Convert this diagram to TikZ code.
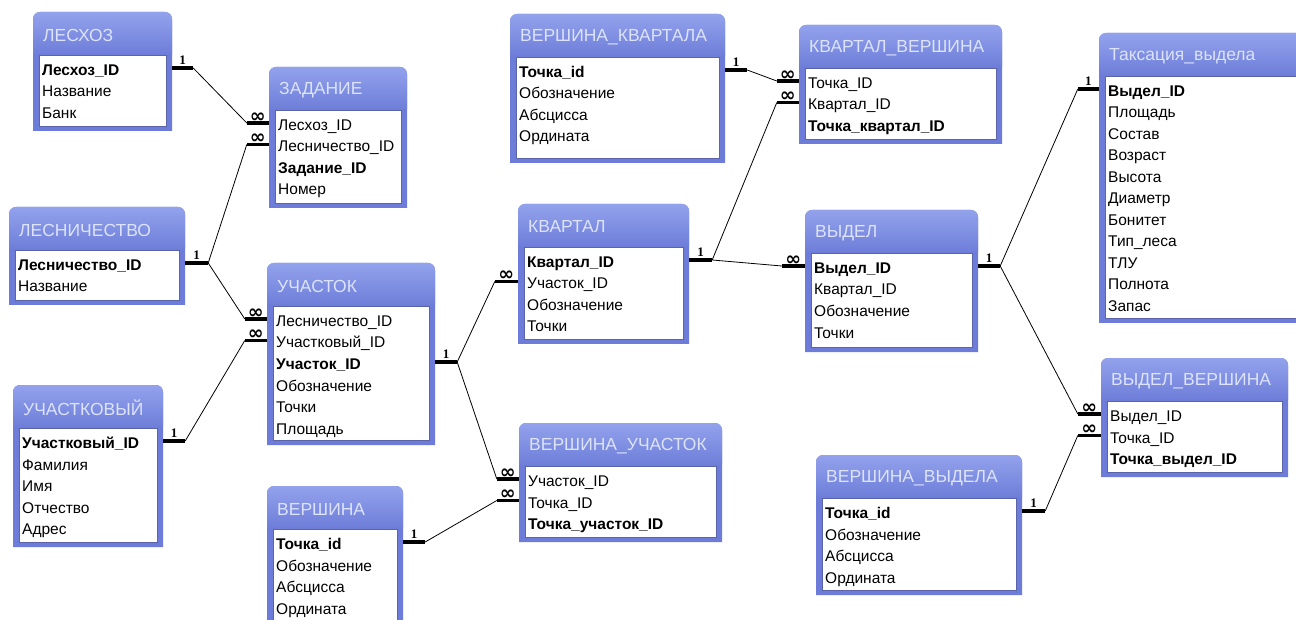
\documentclass[tikz,border=0pt]{standalone}
\usepackage{fontspec}
\setmainfont{Liberation Sans}
\newfontfamily\lblfont{Liberation Serif}
\newfontfamily\symfont{DejaVu Sans}
\usetikzlibrary{fit}
\definecolor{tblframe}{HTML}{6C7CD8}
\definecolor{hdtop}{HTML}{93A2EC}
\definecolor{hdbot}{HTML}{6E7ED9}
\definecolor{ttlcol}{HTML}{DCE3FA}
\definecolor{innerbd}{HTML}{5A64A8}
\tikzset{
  x=1pt,y=-1pt,
  rowtxt/.style={anchor=west, inner sep=0pt, text height=15pt, text depth=0pt,
                 font=\fontsize{15.5}{18}\selectfont, text=black},
  ttl/.style={anchor=west, inner sep=0pt, font=\fontsize{17.5}{20}\selectfont, text=ttlcol},
  stub/.style={line width=3.6pt},
  rel/.style={line width=0.8pt},
  one/.style={font=\lblfont\bfseries\fontsize{13}{13}\selectfont, inner sep=1pt, above=1pt},
  many/.style={font=\symfont\bfseries\fontsize{19}{19}\selectfont, inner sep=0pt, above=-1pt},
  tbl/.style={inner sep=0pt},
}
\newcommand\entity[7]{%
  \fill[tblframe] (#2,#5) [rounded corners=7pt] -- (#2,#3) -- (#4,#3) [sharp corners] -- (#4,#5) -- cycle;
  \shade[top color=hdtop, bottom color=hdbot] (#2,#3+42) [rounded corners=7pt] -- (#2,#3) -- (#4,#3) [sharp corners] -- (#4,#3+42) -- cycle;
  \fill[white, draw=innerbd, line width=0.8pt] (#2+6,#3+43) rectangle (#4-6,#5-5);
  \node[tbl, fit={(#2,#3) (#4,#5)}] (#1) {};
  \node[ttl] (#1-t) at (#2+10,#3+23) {#6};
  \foreach \r [count=\i from 0] in {#7}
    \node[rowtxt] (#1-\i) at (#2+9,#3+56+21.5*\i) {\r};
}
\begin{document}
\begin{tikzpicture}
\useasboundingbox (0,0) rectangle (1296,620);
\clip (0,0) rectangle (1296,620);
\fill[white] (0,0) rectangle (1296,620);

\entity{lesh}{33}{12}{172}{131}{ЛЕСХОЗ}{\textbf{Лесхоз\_ID},Название,Банк}
\entity{zad}{269}{67}{407}{208}{ЗАДАНИЕ}{Лесхоз\_ID,Лесничество\_ID,\textbf{Задание\_ID},Номер}
\entity{lesn}{9}{207}{185}{305}{ЛЕСНИЧЕСТВО}{\textbf{Лесничество\_ID},Название}
\entity{uch}{267}{263}{435}{445}{УЧАСТОК}{Лесничество\_ID,Участковый\_ID,\textbf{Участок\_ID},Обозначение,Точки,Площадь}
\entity{uchv}{13}{385}{163}{547}{УЧАСТКОВЫЙ}{\textbf{Участковый\_ID},Фамилия,Имя,Отчество,Адрес}
\entity{ver}{267}{486}{403}{650}{ВЕРШИНА}{\textbf{Точка\_id},Обозначение,Абсцисса,Ордината}
\entity{vk}{510}{14}{725}{163}{ВЕРШИНА\_КВАРТАЛА}{\textbf{Точка\_id},Обозначение,Абсцисса,Ордината}
\entity{kvv}{799}{25}{1002}{144}{КВАРТАЛ\_ВЕРШИНА}{Точка\_ID,Квартал\_ID,\textbf{Точка\_квартал\_ID}}
\entity{kv}{518}{204}{689}{344}{КВАРТАЛ}{\textbf{Квартал\_ID},Участок\_ID,Обозначение,Точки}
\entity{vyd}{805}{210}{978}{352}{ВЫДЕЛ}{\textbf{Выдел\_ID},Квартал\_ID,Обозначение,Точки}
\entity{vu}{519}{423}{722}{542}{ВЕРШИНА\_УЧАСТОК}{Участок\_ID,Точка\_ID,\textbf{Точка\_участок\_ID}}
\entity{tax}{1099}{33}{1312}{323}{Таксация\_выдела}{\textbf{Выдел\_ID},Площадь,Состав,Возраст,Высота,Диаметр,Бонитет,Тип\_леса,ТЛУ,Полнота,Запас}
\entity{vv}{1101}{358}{1288}{477}{ВЫДЕЛ\_ВЕРШИНА}{Выдел\_ID,Точка\_ID,\textbf{Точка\_выдел\_ID}}
\entity{vvd}{816}{455}{1022}{595}{ВЕРШИНА\_ВЫДЕЛА}{\textbf{Точка\_id},Обозначение,Абсцисса,Ордината}

% ЛЕСХОЗ -> ЗАДАНИЕ
\draw[stub] (lesh.east |- lesh-0) -- ++(21,0) node[midway,one]{1} coordinate (a1);
\draw[stub] (zad.west |- zad-0) -- ++(-22,0) node[midway,many]{∞} coordinate (b1);
\draw[rel] (a1) -- (b1);
% ЛЕСНИЧЕСТВО -> ЗАДАНИЕ, УЧАСТОК
\draw[stub] (lesn.east |- lesn-0) -- ++(23,0) node[midway,one]{1} coordinate (a2);
\draw[stub] (zad.west |- zad-1) -- ++(-22,0) node[midway,many]{∞} coordinate (b2);
\draw[stub] (uch.west |- uch-0) -- ++(-22,0) node[midway,many]{∞} coordinate (b3);
\draw[rel] (b2) -- (a2) -- (b3);
% УЧАСТКОВЫЙ -> УЧАСТОК
\draw[stub] (uchv.east |- uchv-0) -- ++(22,0) node[midway,one]{1} coordinate (a3);
\draw[stub] (uch.west |- uch-1) -- ++(-22,0) node[midway,many]{∞} coordinate (b4);
\draw[rel] (a3) -- (b4);
% УЧАСТОК -> КВАРТАЛ, ВЕРШИНА_УЧАСТОК
\draw[stub] (uch.east |- uch-2) -- ++(22,0) node[midway,one]{1} coordinate (a4);
\draw[stub] (kv.west |- kv-1) -- ++(-23,0) node[midway,many]{∞} coordinate (b5);
\draw[stub] (vu.west |- vu-0) -- ++(-22,0) node[midway,many]{∞} coordinate (b6);
\draw[rel] (b5) -- (a4) -- (b6);
% ВЕРШИНА -> ВЕРШИНА_УЧАСТОК
\draw[stub] (ver.east |- ver-0) -- ++(22,0) node[midway,one]{1} coordinate (a5);
\draw[stub] (vu.west |- vu-1) -- ++(-22,0) node[midway,many]{∞} coordinate (b7);
\draw[rel] (a5) -- (b7);
% ВЕРШИНА_КВАРТАЛА -> КВАРТАЛ_ВЕРШИНА
\draw[stub] (vk.east |- vk-0) -- ++(22,0) node[midway,one]{1} coordinate (a6);
\draw[stub] (kvv.west |- kvv-0) -- ++(-22,0) node[midway,many]{∞} coordinate (b8);
\draw[rel] (a6) -- (b8);
% КВАРТАЛ -> КВАРТАЛ_ВЕРШИНА, ВЫДЕЛ
\draw[stub] (kv.east |- kv-0) -- ++(23,0) node[midway,one]{1} coordinate (a7);
\draw[stub] (kvv.west |- kvv-1) -- ++(-22,0) node[midway,many]{∞} coordinate (b9);
\draw[stub] (vyd.west |- vyd-0) -- ++(-23,0) node[midway,many]{∞} coordinate (b10);
\draw[rel] (b9) -- (a7) -- (b10);
% ВЫДЕЛ -> Таксация_выдела, ВЫДЕЛ_ВЕРШИНА
\draw[stub] (vyd.east |- vyd-0) -- ++(22,0) node[midway,one]{1} coordinate (a8);
\draw[stub] (tax.west |- tax-0) -- ++(-21,0) node[midway,one]{1} coordinate (b11);
\draw[stub] (vv.west |- vv-0) -- ++(-23,0) node[midway,many]{∞} coordinate (b12);
\draw[rel] (b11) -- (a8) -- (b12);
% ВЕРШИНА_ВЫДЕЛА -> ВЫДЕЛ_ВЕРШИНА
\draw[stub] (vvd.east |- vvd-0) -- ++(23,0) node[midway,one]{1} coordinate (a9);
\draw[stub] (vv.west |- vv-1) -- ++(-23,0) node[midway,many]{∞} coordinate (b13);
\draw[rel] (a9) -- (b13);
\end{tikzpicture}
\end{document}
